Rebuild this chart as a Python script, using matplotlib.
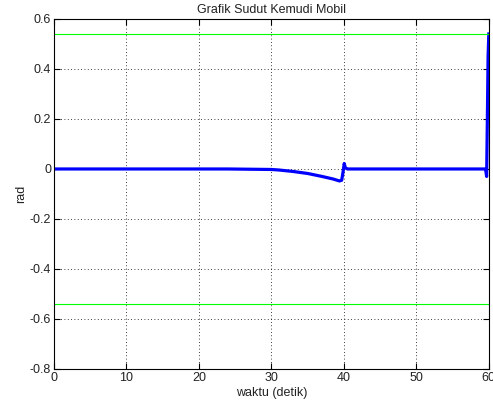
import matplotlib
matplotlib.use('Agg')
import matplotlib.pyplot as plt

# waktu (detik) dan sudut kemudi (rad)
t = [0, 24, 30, 31, 33, 35, 37, 38.5, 39.4, 39.7, 39.9, 40.05, 40.2, 40.5, 59.5, 59.6, 59.7, 59.8, 59.9, 60]
sudut = [0, 0, -0.002, -0.004, -0.01, -0.018, -0.03, -0.04, -0.048, -0.045, -0.01, 0.022, 0.005, 0, 0, -0.01, -0.03, 0.2, 0.45, 0.54]
batas = 0.54
xticks = [0, 10, 20, 30, 40, 50, 60]
yticks = [-0.8, -0.6, -0.4, -0.2, 0, 0.2, 0.4, 0.6]

plt.rcParams['font.family'] = ['Liberation Sans', 'DejaVu Sans']
teks = '#222222'
fig = plt.figure(figsize=(4.93, 4.07), dpi=100)
ax = fig.add_axes([0.1095, 0.0934, 0.882, 0.86])

ax.plot(t, sudut, color='#0000ff', linewidth=2.3)
ax.axhline(batas, color='#00ff00', linewidth=0.8)
ax.axhline(-batas, color='#00ff00', linewidth=0.8)

ax.set_xlim(0, 60)
ax.set_ylim(-0.8, 0.6)
ax.set_xticks(xticks)
ax.set_yticks(yticks)
ax.set_yticklabels(['-0.8', '-0.6', '-0.4', '-0.2', '0', '0.2', '0.4', '0.6'])
ax.tick_params(direction='in', labelsize=9, length=4, top=True, right=True,
               labelcolor=teks, pad=2)
ax.grid(True, linestyle=(0, (1, 3)), color='black', linewidth=0.6)
ax.set_xlabel('waktu (detik)', fontsize=9, labelpad=2, color=teks)
ax.set_ylabel('rad', fontsize=9, labelpad=2, color=teks)
ax.set_title('Grafik Sudut Kemudi Mobil', fontsize=9, pad=4, color=teks)

fig.savefig('out.png', dpi=100)
